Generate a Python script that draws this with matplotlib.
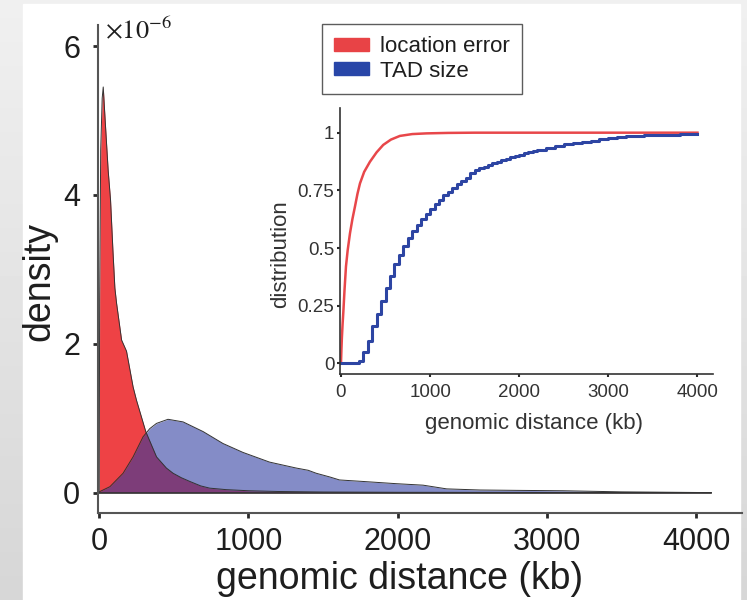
import numpy as np
import matplotlib.pyplot as plt
from matplotlib.patches import Patch, Rectangle

plt.rcParams['font.family'] = ['Liberation Sans', 'DejaVu Sans']
plt.rcParams['mathtext.fontset'] = 'stix'

# density (x 1e-6) vs genomic distance (kb)
err_x = [0, 3, 10, 20, 27, 40, 60, 76, 92, 105, 116, 150, 183, 227, 250, 312, 384,
         450, 495, 550, 607, 680, 740, 850, 1000, 1200, 1500, 2000, 3000, 4100]
err_y = [0, 2.6, 4.6, 5.3, 5.45, 5.0, 4.33, 3.93, 3.25, 2.75, 2.55, 2.05, 1.9, 1.42,
         1.24, 0.82, 0.48, 0.33, 0.26, 0.2, 0.15, 0.09, 0.06, 0.04, 0.025, 0.015,
         0.008, 0.004, 0.002, 0.001]

tad_x = [0, 72, 160, 227, 294, 339, 384, 461, 562, 696, 829, 963, 1141, 1320, 1400,
         1454, 1545, 1610, 1766, 1990, 2170, 2328, 2552, 2800, 3108, 3500, 4100]
tad_y = [0.01, 0.08, 0.26, 0.48, 0.75, 0.86, 0.93, 0.985, 0.95, 0.82, 0.66, 0.54,
         0.41, 0.33, 0.30, 0.26, 0.21, 0.17, 0.15, 0.12, 0.10, 0.05, 0.035, 0.03,
         0.025, 0.01, 0.0]

# cumulative distributions for the inset
cdf_err_x = [0, 5, 10, 18, 26, 40, 56, 75, 101, 128, 157, 185, 213, 260, 325, 400,
             474, 560, 661, 800, 960, 1200, 1500, 4000]
cdf_err_y = [0, 0.06, 0.11, 0.17, 0.22, 0.32, 0.42, 0.49, 0.564, 0.625, 0.68, 0.735,
             0.78, 0.83, 0.874, 0.915, 0.947, 0.97, 0.986, 0.994, 0.997, 0.999, 1.0, 1.0]

cdf_tad_x = [0, 150, 200, 250, 300, 350, 400, 450, 500, 550, 600, 650, 700, 750, 800,
             850, 900, 950, 1000, 1050, 1100, 1150, 1200, 1250, 1300, 1350, 1400,
             1450, 1500, 1550, 1600, 1650, 1700, 1750, 1800, 1850, 1900, 1950, 2000,
             2050, 2100, 2150, 2200, 2300, 2400, 2500, 2600, 2700, 2800, 2900, 3000,
             3100, 3200, 3300, 3400, 3500, 3600, 3700, 3800, 3900, 4000]
cdf_tad_y = [0, 0, 0.01, 0.05, 0.095, 0.16, 0.215, 0.27, 0.325, 0.38, 0.43, 0.47, 0.51,
             0.545, 0.575, 0.6, 0.625, 0.648, 0.67, 0.69, 0.71, 0.728, 0.745, 0.762,
             0.778, 0.79, 0.805, 0.825, 0.838, 0.845, 0.852, 0.86, 0.867, 0.874, 0.88,
             0.887, 0.893, 0.899, 0.905, 0.91, 0.915, 0.92, 0.925, 0.934, 0.943, 0.949,
             0.955, 0.961, 0.966, 0.971, 0.976, 0.98, 0.984, 0.986, 0.988, 0.99, 0.991,
             0.992, 0.993, 0.994, 0.995]

red = '#ee4245'
blue = '#2b3a9f'
dark = '#2a2a2a'
txt = '#1e1e1e'

fig = plt.figure(figsize=(7.47, 6.0), dpi=100)

# grey slide background with a white panel
bg = fig.add_axes([0, 0, 1, 1])
grad = np.linspace(0.94, 0.84, 100).reshape(-1, 1)
bg.imshow(grad, cmap='gray', vmin=0, vmax=1, aspect='auto', extent=[0, 1, 0, 1])
bg.add_patch(Rectangle((23 / 747, 0), (740 - 23) / 747, 596 / 600, color='white'))
bg.set_xlim(0, 1)
bg.set_ylim(0, 1)
bg.axis('off')

# main density plot
ax = fig.add_axes([0.1308, 0.1455, 0.993 - 0.1308, 0.958 - 0.1455])
ax.fill_between(err_x, err_y, color=red, alpha=1.0, lw=0)
ax.plot(err_x, err_y, color='#333333', lw=0.7)
ax.fill_between(tad_x, tad_y, color=blue, alpha=0.58, lw=0)
ax.plot(tad_x, tad_y, color='#333333', lw=0.7)
ax.plot([0, 4100], [0, 0], color='#333333', lw=1.2)

ax.set_xlim(-10, 4305)
ax.set_ylim(-0.27, 6.28)
ax.set_xticks([0, 1000, 2000, 3000, 4000])
ax.set_yticks([0, 2, 4, 6])
ax.set_yticklabels(['0', '2', '4', '6'])
ax.tick_params(labelsize=22, length=3.5, width=2, color=dark, labelcolor=txt)
ax.tick_params(axis='x', pad=7)
ax.tick_params(axis='y', pad=9)
ax.set_xlabel('genomic distance (kb)', fontsize=27, color=txt)
ax.xaxis.set_label_coords(0.469, -0.1)
ax.set_ylabel('density', fontsize=27, color=txt)
ax.yaxis.set_label_coords(-0.063, 0.475)
for s in ['top', 'right']:
    ax.spines[s].set_visible(False)
for s in ['left', 'bottom']:
    ax.spines[s].set_color('#555555')
    ax.spines[s].set_linewidth(1.5)
ax.patch.set_alpha(0)
fig.text(105 / 747, 1 - 30 / 600, r'$\times 10^{-6}$', fontsize=19, color=txt,
         va='center', ha='left')

# legend
handles = [Patch(color='#e84346', label='location error'),
           Patch(color='#2846a8', label='TAD size')]
leg = fig.legend(handles=handles, loc='upper left', bbox_to_anchor=(322 / 747, 1 - 24 / 600),
                 fontsize=16, frameon=True, fancybox=False, handlelength=1.55,
                 handleheight=0.55, handletextpad=0.5, borderpad=0.55, labelspacing=0.15,
                 borderaxespad=0)
leg.get_frame().set_edgecolor('#333333')
leg.get_frame().set_linewidth(1.0)
for t in leg.get_texts():
    t.set_color(txt)

# inset cumulative distribution
ins = fig.add_axes([340 / 747, 1 - 374 / 600, (713 - 340) / 747, (374 - 108) / 600])
ins.plot(cdf_err_x, cdf_err_y, color='#e8474a', lw=1.8)
ins.plot(cdf_tad_x, cdf_tad_y, color='#2d45a3', lw=2.2, drawstyle='steps-post')
ins.set_xlim(-11, 4174)
ins.set_ylim(-0.046, 1.107)
ins.set_xticks([0, 1000, 2000, 3000, 4000])
ins.set_yticks([0, 0.25, 0.5, 0.75, 1])
ins.set_yticklabels(['0', '0.25', '0.5', '0.75', '1'])
ins.tick_params(labelsize=13.5, length=2, width=1.5, color=dark, labelcolor='#333333')
ins.tick_params(axis='x', pad=5)
ins.tick_params(axis='y', pad=2)
ins.set_xlabel('genomic distance (kb)', fontsize=16, color='#333333')
ins.xaxis.set_label_coords(0.52, -0.145)
ins.set_ylabel('distribution', fontsize=16, color='#333333')
ins.yaxis.set_label_coords(-0.13, 0.45)
for s in ['top', 'right']:
    ins.spines[s].set_visible(False)
for s in ['left', 'bottom']:
    ins.spines[s].set_color('#333333')
    ins.spines[s].set_linewidth(1.2)
ins.patch.set_alpha(0)

fig.savefig('out.png', dpi=100)
